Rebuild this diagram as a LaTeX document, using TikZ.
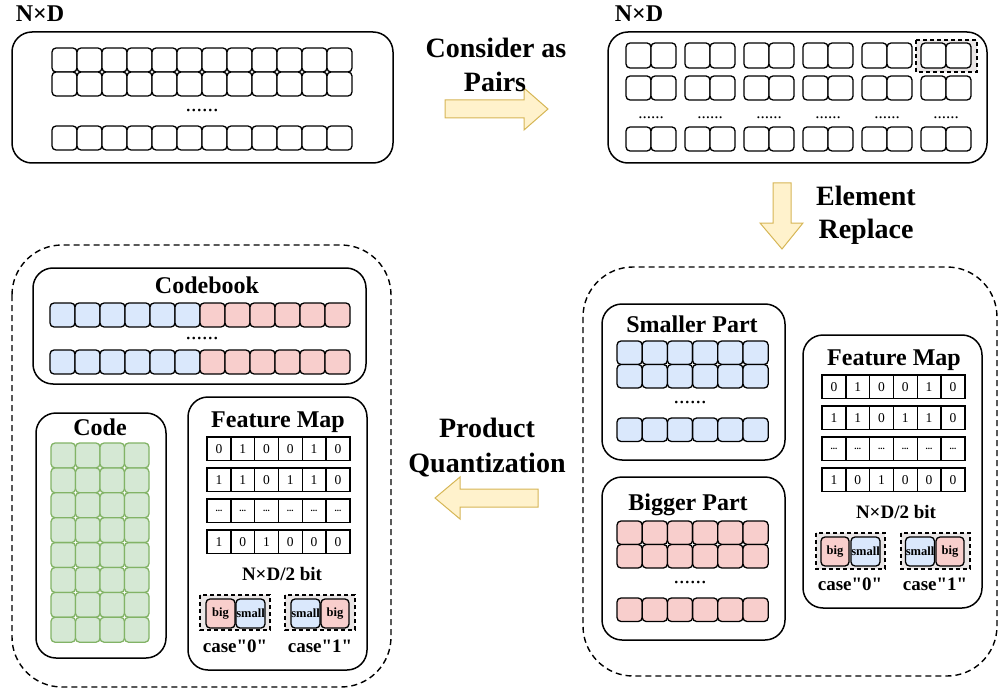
\documentclass[tikz,border=0pt]{standalone}
\usepackage{fontspec}
\setmainfont{Liberation Serif}[Ligatures=TeXOff]
\definecolor{bluef}{HTML}{DAE8FC}
\definecolor{redf}{HTML}{F8CECC}
\definecolor{greenf}{HTML}{D5E8D4}
\definecolor{greend}{HTML}{82B366}
\definecolor{arrowf}{HTML}{FFF2CC}
\definecolor{arrowd}{HTML}{D6B656}
\definecolor{caseg}{HTML}{EAE6E6}
\tikzset{
 panel/.style={draw, line width=1.5pt, rounded corners=20pt, fill=white},
 dpanel/.style={draw, line width=1.4pt, dash pattern=on 6pt off 4pt, rounded corners=50pt},
 cellbox/.style={draw, line width=1.3pt, rounded corners=4pt, fill=white},
 bluecell/.style={cellbox, fill=bluef},
 redcell/.style={cellbox, fill=redf},
 greencell/.style={draw=greend, line width=1.3pt, rounded corners=4pt, fill=greenf},
 bitcell/.style={draw, line width=1.4pt, minimum width=23.8pt, minimum height=23.5pt, inner sep=0pt, font=\fontsize{13.5}{13.5}\selectfont},
 blockarrow/.style={draw=arrowd, fill=arrowf, line width=1pt, line join=miter},
 biglbl/.style={font=\fontsize{28}{28}\selectfont\bfseries, anchor=base, inner sep=0pt},
 titlelbl/.style={font=\fontsize{24}{24}\selectfont\bfseries, anchor=base, inner sep=0pt},
 sublbl/.style={font=\fontsize{19}{19}\selectfont\bfseries, anchor=base, inner sep=0pt},
 dotslbl/.style={font=\fontsize{22}{22}\selectfont, anchor=base, inner sep=0pt},
 casebox/.style={draw, line width=1.4pt, dash pattern=on 4pt off 3pt, fill=caseg},
 casecell/.style={draw, line width=1.3pt, rounded corners=4pt, inner sep=0pt, minimum height=29pt, font=\fontsize{12.5}{12.5}\selectfont\bfseries},
}
\newcommand\fmdots{{\fontsize{9}{9}\selectfont\bfseries ...}}
\newcommand\bitrow[4]{%
 \foreach \v [count=\c from 0] in {#3} {
   \node[bitcell, name=#4-\c] at ({#1+11.9+23.8*\c},{#2+11.75}) {\v};
 }}
\begin{document}
\begin{tikzpicture}[x=1pt,y=-1pt]
\useasboundingbox (0,0) rectangle (999,698);

% ---------- top-left panel ----------
\draw[panel] (12,32) rectangle (393,163);
\foreach \i in {0,...,11} {
  \draw[cellbox] ({52+25*\i},48) rectangle ++(25,24);
  \draw[cellbox] ({52+25*\i},72) rectangle ++(25,24);
  \draw[cellbox] ({52+25*\i},126) rectangle ++(25,24);
}
\node[dotslbl] (tldots) at (202,111.5) {......};
\node[font=\fontsize{24}{24}\selectfont\bfseries, anchor=base, inner sep=0pt] (tlnd) at (40,22) {N×D};

% ---------- top-right panel ----------
\draw[panel] (608,32) rectangle (987,163);
\draw[casebox] (916,40) rectangle (977,72);
\foreach \p in {0,...,5} {
  \foreach \c in {0,1} {
    \draw[cellbox] ({626+59*\p+25*\c},43) rectangle ++(25,25);
    \draw[cellbox] ({626+59*\p+25*\c},76) rectangle ++(25,24);
    \draw[cellbox] ({626+59*\p+25*\c},127) rectangle ++(25,24);
  }
  \node[dotslbl, font=\fontsize{17}{17}\selectfont] (trdots\p) at ({651+59*\p},118.5) {......};
}
\node[font=\fontsize{24}{24}\selectfont\bfseries, anchor=base, inner sep=0pt] (trnd) at (639,22) {N×D};

% ---------- arrows ----------
\draw[blockarrow] (445,100) -- (524,100) -- (524,88) -- (548,109) -- (524,130) -- (524,118) -- (445,118) -- cycle;
\draw[blockarrow] (773,183) -- (791,183) -- (791,223) -- (803,223) -- (782,249) -- (760,223) -- (773,223) -- cycle;
\draw[blockarrow] (538,489) -- (460,489) -- (460,477) -- (435,498) -- (460,519) -- (460,507) -- (538,507) -- cycle;
\node[biglbl] (consider1) at (496,58) {Consider as};
\node[biglbl] (consider2) at (495,92) {Pairs};
\node[biglbl] (elem1) at (866,205) {Element};
\node[biglbl] (elem2) at (866,238) {Replace};
\node[biglbl] (prod1) at (487,437) {Product};
\node[biglbl] (prod2) at (487,472) {Quantization};

% ---------- bottom-right panel ----------
\draw[dpanel] (583,267) rectangle (997,676);
\draw[panel] (602,304) rectangle (785,460);
\node[titlelbl] (smalltitle) at (692,332) {Smaller Part};
\foreach \c in {0,...,5} {
  \draw[bluecell] ({617+25.2*\c},341) rectangle ++(25.2,23.5);
  \draw[bluecell] ({617+25.2*\c},364.5) rectangle ++(25.2,23.5);
  \draw[bluecell] ({617+25.2*\c},418) rectangle ++(25.2,23.5);
}
\node[dotslbl] (smalldots) at (690,403.5) {......};
\draw[panel] (602,477) rectangle (785,640);
\node[titlelbl] (bigtitle) at (688,510) {Bigger Part};
\foreach \c in {0,...,5} {
  \draw[redcell] ({617+25.2*\c},521) rectangle ++(25.2,23.5);
  \draw[redcell] ({617+25.2*\c},544.5) rectangle ++(25.2,23.5);
  \draw[redcell] ({617+25.2*\c},598) rectangle ++(25.2,23.5);
}
\node[dotslbl] (bigdots) at (690,583.5) {......};
\draw[panel] (803,335) rectangle (982,608);
\node[titlelbl] (rfmtitle) at (894,365) {Feature Map};
\bitrow{822}{375}{0,1,0,0,1,0}{rfa}
\bitrow{822}{406}{1,1,0,1,1,0}{rfb}
\bitrow{822}{437}{\fmdots,\fmdots,\fmdots,\fmdots,\fmdots,\fmdots}{rfc}
\bitrow{822}{468}{1,0,1,0,0,0}{rfd}
\node[sublbl] (rbits) at (896,518) {N×D/2 bit};
\draw[casebox] (816,533) rectangle (885,569);
\node[casecell, fill=redf, minimum width=28pt] (rc0b) at (835,551.5) {big};
\node[casecell, fill=bluef, minimum width=29pt] (rc0s) at (865.5,551.5) {small};
\draw[casebox] (901,533) rectangle (970,569);
\node[casecell, fill=bluef, minimum width=29pt] (rc1s) at (920,551.5) {small};
\node[casecell, fill=redf, minimum width=28pt] (rc1b) at (950,551.5) {big};
\node[sublbl] (rcase0) at (850,590) {case"0"};
\node[sublbl] (rcase1) at (935,590) {case"1"};

% ---------- bottom-left panel ----------
\draw[dpanel] (12,245) rectangle (391,687);
\draw[panel] (33,268) rectangle (366,384);
\node[titlelbl] (cbtitle) at (207,293) {Codebook};
\foreach \i in {0,...,11} {
  \pgfmathsetmacro\cc{\i<6 ? "bluef" : "redf"}
  \draw[cellbox, fill=\cc] ({50+25*\i},303) rectangle ++(25,24);
  \draw[cellbox, fill=\cc] ({50+25*\i},350) rectangle ++(25,24);
}
\node[dotslbl] (cbdots) at (202,339.5) {......};
\draw[panel] (36,413) rectangle (166,658);
\node[titlelbl] (codetitle) at (100,435) {Code};
\foreach \r in {0,...,7} {
  \foreach \c in {0,...,3} {
    \draw[greencell] ({51+24.5*\c},{443+24.9*\r}) rectangle ++(24.5,24.9);
  }
}
\draw[panel] (188,397) rectangle (367,670);
\node[titlelbl] (lfmtitle) at (278,427) {Feature Map};
\bitrow{207}{437}{0,1,0,0,1,0}{lfa}
\bitrow{207}{468}{1,1,0,1,1,0}{lfb}
\bitrow{207}{499}{\fmdots,\fmdots,\fmdots,\fmdots,\fmdots,\fmdots}{lfc}
\bitrow{207}{530}{1,0,1,0,0,0}{lfd}
\node[sublbl] (lbits) at (282,580) {N×D/2 bit};
\draw[casebox] (200,595) rectangle (270,630);
\node[casecell, fill=redf, minimum width=29pt] (lc0b) at (220.5,613.5) {big};
\node[casecell, fill=bluef, minimum width=29pt] (lc0s) at (250.5,613.5) {small};
\draw[casebox] (285,595) rectangle (355,630);
\node[casecell, fill=bluef, minimum width=29pt] (lc1s) at (305.5,613.5) {small};
\node[casecell, fill=redf, minimum width=28pt] (lc1b) at (335,613.5) {big};
\node[sublbl] (lcase0) at (235,652) {case"0"};
\node[sublbl] (lcase1) at (320,652) {case"1"};
\end{tikzpicture}
\end{document}
